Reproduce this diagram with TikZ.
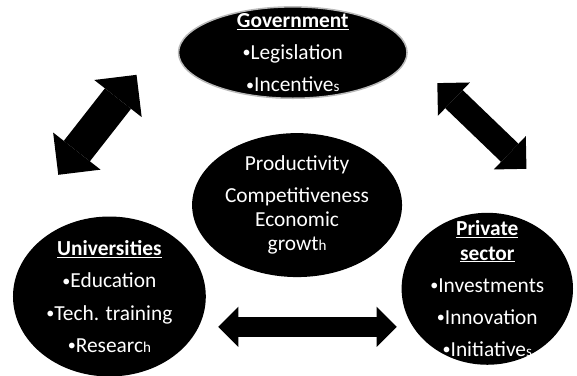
\documentclass[tikz,border=0pt]{standalone}
\usepackage{fontspec}
\setmainfont{Carlito}
\usepackage{tikz}
\usetikzlibrary{positioning, shapes.geometric, arrows.meta}
\newcommand{\headFmt}[1]{\underline{\textbf{#1}}}
\newcommand{\tailFmt}[1]{{\fontsize{15}{24}\selectfont #1}}
\newcommand{\itemDot}{\raisebox{1.5pt}{\fontsize{16}{24}\selectfont •}}

\begin{document}
\begin{tikzpicture}[
			hub/.style={ellipse, fill=black, inner sep=0pt},
			hubtext/.style={text=white, align=center, inner sep=0pt, font=\fontsize{21.3}{24}\selectfont},
			link/.style n args={3}{line width=#1, {Triangle[width=#2, length=#3, line width=0pt]}-{Triangle[width=#2, length=#3, line width=0pt]}},
		]

		\useasboundingbox (0,0) rectangle (20.2,13.16);

		\node[hub, draw=gray!55, line width=1.5pt, minimum width=8cm, minimum height=3.2cm,
			label={[hubtext]center:{\headFmt{Government}\\[8pt]\itemDot Legislation\\[8pt]\itemDot Incentive\tailFmt{s}}}] (gov) at (10.25,11.32) {};
		\node[hub, minimum width=7.35cm, minimum height=5.04cm,
			label={[hubtext]center:{Productivity\\[8pt]Competitiveness\\Economic\\growt\tailFmt{h}}}] (core) at (10.4,5.98) {};
		\node[hub, minimum width=6.75cm, minimum height=5.6cm,
			label={[hubtext]center:{\headFmt{Universities}\\[8pt]\itemDot Education\\[8pt]\itemDot Tech. training\\[8pt]\itemDot Researc\tailFmt{h}}}] (uni) at (3.83,2.78) {};
		\node[hub, minimum width=6cm, minimum height=5.32cm,
			label={[hubtext]center:{\headFmt{Private}\\\headFmt{sector}\\[8pt]\itemDot Investments\\[8pt]\itemDot Innovation\\[8pt]\itemDot Initiative\tailFmt{s}}}] (priv) at (17.06,3.05) {};

		\coordinate (gu1) at (2.04,7.04);
		\coordinate (gu2) at (4.78,10.54);
		\coordinate (gp1) at (15.31,10.25);
		\coordinate (gp2) at (18.43,7.25);
		\coordinate (up1) at (7.64,1.72);
		\coordinate (up2) at (13.89,1.72);

		\draw[link={33pt}{60pt}{30pt}] (gu1) -- (gu2);
		\draw[link={25pt}{46pt}{23pt}] (gp1) -- (gp2);
		\draw[link={20pt}{40pt}{20pt}] (up1) -- (up2);

		\end{tikzpicture}
\end{document}
